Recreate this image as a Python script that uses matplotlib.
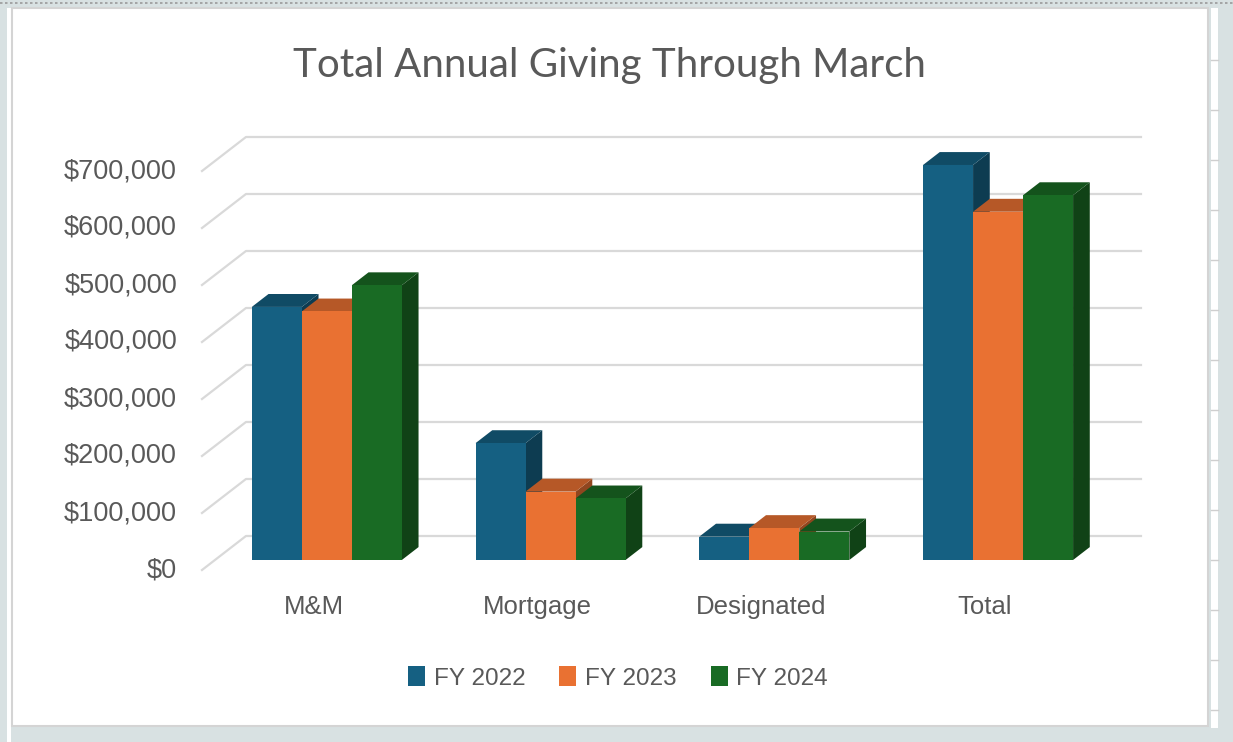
import matplotlib.pyplot as plt
from matplotlib.patches import Polygon, Rectangle, Patch
from matplotlib.lines import Line2D
import matplotlib.colors as mcolors
import matplotlib.transforms as mtransforms
import numpy as np

categories = ["M&M", "Mortgage", "Designated", "Total"]
series_names = ["FY 2022", "FY 2023", "FY 2024"]
fy2022 = [444000, 205000, 41000, 693000]
fy2023 = [436000, 120000, 56000, 611000]
fy2024 = [482000, 108000, 50000, 640000]
tick_values = [0, 100000, 200000, 300000, 400000, 500000, 600000, 700000]
tick_labels = ["$0", "$100,000", "$200,000", "$300,000", "$400,000",
               "$500,000", "$600,000", "$700,000"]

colors = ["#156082", "#E97132", "#196B24"]
TEXT = "#595959"
GRID = "#d9d9d9"

# oblique "3D" projection: full floor depth in data units
DX = 0.1966      # category units
DY = 59650       # value units
BAR_FRONT = 0.294   # depth fraction of bar front face
BAR_DEPTH = 0.38    # depth fraction of bar thickness
BAR_W = 0.2235


def shade(c, f):
    r, g, b = mcolors.to_rgb(c)
    return (r * f, g * f, b * f)


W, H = 1233, 742
fig = plt.figure(figsize=(W / 100, H / 100), dpi=100, facecolor="#d8e1e2")

# chart area and sheet decorations (kept behind the axes)
fig.add_artist(Rectangle((7 / W, 0), 4 / W, 1 - 8 / H, transform=fig.transFigure,
                         facecolor="white", edgecolor="none", zorder=-10))
fig.add_artist(Rectangle((1211 / W, (H - 728) / H), 7 / W, 720 / H, transform=fig.transFigure,
                         facecolor="white", edgecolor="none", zorder=-10))
for yy in range(60, 740, 50):
    fig.add_artist(Line2D([1211 / W, 1218 / W], [1 - yy / H] * 2, transform=fig.transFigure,
                          color="#cfcfcf", lw=1, zorder=-9))
fig.add_artist(Rectangle((12 / W, (H - 726) / H), 1196 / W, 718 / H, transform=fig.transFigure,
                         facecolor="white", edgecolor="#d4d4d4", lw=1.5, zorder=-8))
fig.add_artist(Line2D([0, 1], [1 - 3 / H] * 2, transform=fig.transFigure,
                      color="#9a9a9a", lw=1.2, ls=(0, (1.5, 1.5)), zorder=-8))

ax = fig.add_axes([202 / W, (H - 570) / H, 895 / W, 399 / H])
ax.set_facecolor("none")
ax.set_xlim(-0.5, len(categories) - 0.5)
ax.set_ylim(0, 700000)
for s in ax.spines.values():
    s.set_visible(False)

# gridlines: slanted floor edge + back wall
x_left, x_right = -0.5, len(categories) - 0.5
for t in tick_values:
    ax.plot([x_left, x_left + DX, x_right + DX], [t, t + DY, t + DY],
            color=GRID, lw=1.6, clip_on=False, zorder=1)

# bars
data = [fy2022, fy2023, fy2024]
x = np.arange(len(categories))
z = 2
for i in range(len(categories)):
    for j, vals in enumerate(data):
        v = vals[i]
        x0 = x[i] + (j - 1.5) * BAR_W + BAR_FRONT * DX
        x1 = x0 + BAR_W
        y0 = BAR_FRONT * DY
        top = v + y0
        ddx, ddy = BAR_DEPTH * DX, BAR_DEPTH * DY
        side = Polygon([(x1, y0), (x1 + ddx, y0 + ddy), (x1 + ddx, top + ddy), (x1, top)],
                       closed=True, facecolor=shade(colors[j], 0.62), edgecolor="none",
                       zorder=z, clip_on=False)
        cap = Polygon([(x0, top), (x1, top), (x1 + ddx, top + ddy), (x0 + ddx, top + ddy)],
                      closed=True, facecolor=shade(colors[j], 0.78), edgecolor="none",
                      zorder=z + 1, clip_on=False)
        ax.add_patch(side)
        ax.add_patch(cap)
        ax.bar(x0, v, width=BAR_W, bottom=y0, align="edge", color=colors[j],
               zorder=z + 2, clip_on=False)
        z += 3

ax.set_yticks(tick_values)
ax.set_yticklabels(tick_labels)
ax.set_xticks(x)
ax.set_xticklabels(categories)
ax.tick_params(axis="y", length=0, pad=18, labelsize=19.5, labelcolor=TEXT)
ax.tick_params(axis="x", length=0, pad=18, labelsize=18.5, labelcolor=TEXT)
for lab in ax.get_xticklabels() + ax.get_yticklabels():
    lab.set_family("Liberation Sans")
nudge = mtransforms.ScaledTranslation(0, 3 / 100, fig.dpi_scale_trans)
for lab in ax.get_yticklabels():
    lab.set_transform(lab.get_transform() + nudge)

fig.text(609 / W, 1 - 65 / H, "Total Annual Giving Through March", ha="center", va="center",
         fontsize=29, color=TEXT, family="Lato")

handles = [Patch(facecolor=c, edgecolor="none") for c in colors]
fig.legend(handles, series_names, loc="center", bbox_to_anchor=(618 / W, 1 - 678 / H),
           ncol=3, frameon=False, handlelength=0.7, handleheight=0.9, handletextpad=0.35,
           columnspacing=1.4, prop={"family": "Liberation Sans", "size": 17.5},
           labelcolor=TEXT)

fig.savefig("out.png", dpi=100, facecolor=fig.get_facecolor())
